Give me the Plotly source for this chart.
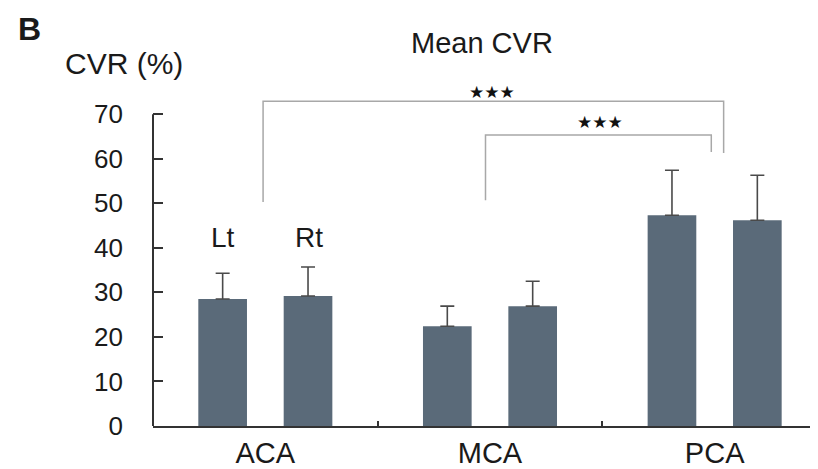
import plotly.graph_objects as go

categories = ["ACA", "MCA", "PCA"]
lt_values = [28.5, 22.4, 47.3]
lt_sd = [5.8, 4.5, 10.1]
rt_values = [29.2, 26.9, 46.2]
rt_sd = [6.5, 5.6, 10.1]
y_ticks = [0, 10, 20, 30, 40, 50, 60, 70]

FONT = "Liberation Sans, Arial, sans-serif"
BAR = "#5a6a79"
TXT = "#1a1a1a"

# the page body has an 8px default margin, so the figure is drawn 8px smaller
W, H = 810, 461
ML, MT, MB = 145, 75, 43

fig = go.Figure()
for name, vals, sd in [("Lt", lt_values, lt_sd), ("Rt", rt_values, rt_sd)]:
    fig.add_trace(go.Bar(
        x=categories, y=vals, name=name,
        marker=dict(color=BAR, line=dict(width=0)),
        error_y=dict(type="data", array=sd, arrayminus=[0] * len(sd), symmetric=False,
                     color="#4a4a4a", thickness=1.6, width=7),
    ))

fig.update_layout(
    width=W, height=H,
    margin=dict(l=ML, r=0, t=MT, b=MB),
    paper_bgcolor="white", plot_bgcolor="white",
    showlegend=False,
    barmode="group", bargap=0.24, bargroupgap=0.43,
    font=dict(family=FONT, color=TXT),
)
fig.update_xaxes(
    range=[-0.5, 2.46], showline=True, linecolor="#333", linewidth=2,
    ticks="inside", tickson="boundaries", ticklen=5, tickcolor="#333", tickwidth=1.5,
    showgrid=False, zeroline=False, automargin=False,
    tickfont=dict(size=29, family=FONT, color=TXT), ticklabelstandoff=0,
)
fig.update_yaxes(
    range=[0, 77], showline=False, showgrid=False, zeroline=False, automargin=False,
    tickvals=y_ticks, ticks="inside", ticklen=10, tickcolor="#333", tickwidth=1.5,
    tickfont=dict(size=26, family=FONT, color=TXT), ticklabelstandoff=29,
)

# y axis line (stops at 70)
fig.add_shape(type="line", xref="paper", yref="y", x0=0, x1=0, y0=0, y1=70,
              line=dict(color="#333", width=2))

# significance brackets
GRAY = "#a8a8a8"
fig.add_shape(type="path", xref="x", yref="y",
              path="M -0.01,50.3 L -0.01,72.9 L 2.04,72.9 L 2.04,61.3",
              line=dict(color=GRAY, width=1.5))
fig.add_shape(type="path", xref="x", yref="y",
              path="M 0.98,50.7 L 0.98,65.3 L 1.985,65.3 L 1.985,61.5",
              line=dict(color=GRAY, width=1.5))

STAR_FONT = dict(size=17, family="DejaVu Sans", color="#111")
annots = [
    dict(x=1.01, y=74.9, text="★★★", font=STAR_FONT),
    dict(x=1.49, y=68.2, text="★★★", font=STAR_FONT),
    dict(x=0, y=42.4, text="Lt", xshift=-42, font=dict(size=28)),
    dict(x=0, y=42.4, text="Rt", xshift=44, font=dict(size=28)),
]
for a in annots:
    fig.add_annotation(xref="x", yref="y", showarrow=False,
                       xanchor="center", yanchor="middle", **a)

# paper-referenced labels above the plot (screen pixel positions -> paper units)
PLOT_H = H - MT - MB
PLOT_W = W - ML
def px(x_screen):
    return (x_screen - 8 - ML) / PLOT_W
def py(y_screen):
    return (H - MB - (y_screen - 8)) / PLOT_H

for txt, xs, ys, size in [("Mean CVR", 482, 43, 29), ("CVR (%)", 124, 63, 30),
                          ("<b>B</b>", 29, 29, 32)]:
    fig.add_annotation(xref="paper", yref="paper", x=px(xs), y=py(ys), text=txt,
                       xanchor="center", yanchor="middle", showarrow=False,
                       font=dict(size=size))

fig.write_html("out.html")
